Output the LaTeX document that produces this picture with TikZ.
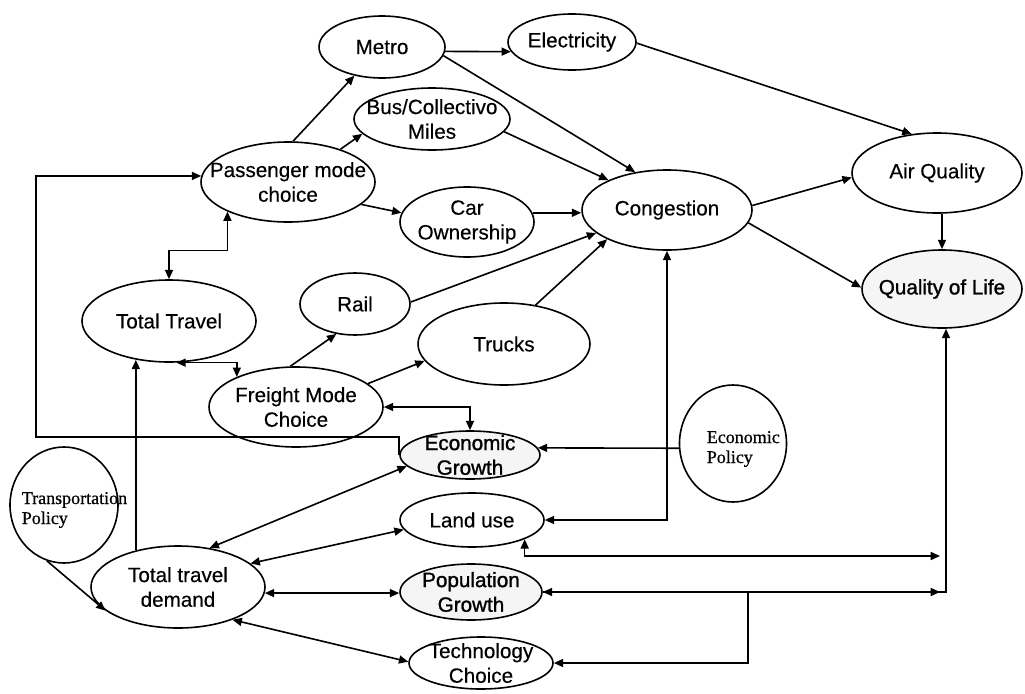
\documentclass[tikz,border=0pt]{standalone}
\usepackage{fontspec}
\setmainfont[FakeBold=0.3]{Liberation Sans}
\newfontfamily\serifface[FakeBold=0.6]{Liberation Serif}
\newfontfamily\heavyface[FakeBold=1.3]{Liberation Sans}
\usetikzlibrary{shapes.geometric,arrows.meta}

\begin{document}
\begin{tikzpicture}[x=0.75pt,y=-0.75pt,
  line width=1.2pt,
  >={Triangle[length=7pt,width=6pt]},
  oval/.style 2 args={ellipse,draw,line width=1.2pt,inner sep=0pt,
    minimum width=#1*1.5pt,minimum height=#2*1.5pt},
  txt/.style={font=\fontsize{15.5}{18.5}\selectfont,align=center},
  htxt/.style={font=\heavyface\fontsize{15.5}{18.5}\selectfont,align=center},
  stip/.style={fill=black!4},
  stxt/.style={font=\serifface\fontsize{13.5}{15}\selectfont,align=left,inner sep=0pt,anchor=west}]

\useasboundingbox (0,0) rectangle (1025,693);

% ---- nodes ----
\node[oval={63}{31},label={[txt]center:Metro}] (metro) at (382,47) {};
\node[oval={64}{28},label={[txt]center:Electricity}] (elec) at (572,42) {};
\node[oval={78}{31},label={[txt]center:{Bus/Collectivo\\Miles}}] (bus) at (432,119) {};
\node[oval={87}{40},label={[txt]center:{Passenger mode\\choice}}] (pm) at (288,182) {};
\node[oval={67}{35},label={[txt]center:{Car\\Ownership}}] (car) at (467,222) {};
\node[oval={85}{40},label={[txt]center:Congestion}] (cong) at (667,210) {};
\node[oval={85}{40},label={[txt]center:Air Quality}] (air) at (937,173) {};
\node[oval={80}{39},stip,label={[htxt]center:Quality of Life}] (qol) at (942,289) {};
\node[oval={87}{41},label={[txt]center:Total Travel}] (tt) at (169,321) {};
\node[oval={55}{31},label={[txt]center:Rail}] (rail) at (355,304) {};
\node[oval={86}{41},label={[txt]center:Trucks}] (trucks) at (504,344) {};
\node[oval={87}{40},label={[txt]center:{Freight Mode\\Choice}}] (fmc) at (296,407) {};
\node[oval={70}{24},stip,label={[htxt]center:{Economic\\Growth}}] (eg) at (470,455) {};
\node[oval={53.5}{58.5}] (ep) at (733,443.5) {};
\node[stxt] (eptext) at (706,449) {Economic\\Policy};
\node[oval={54}{58}] (tp) at (64,505) {};
\node[stxt] (tptext) at (21,510) {Transportation\\Policy};
\node[oval={72}{27},label={[txt]center:Land use}] (land) at (472,520) {};
\node[oval={87}{41},label={[txt]center:{Total travel\\demand}}] (ttd) at (178,587) {};
\node[oval={71}{28},stip,label={[htxt]center:{Population\\Growth}}] (pg) at (471,592) {};
\node[oval={72}{26},label={[txt]center:{Technology\\Choice}}] (tech) at (481,663) {};

% ---- junction points of the routed lines ----
\coordinate (k3) at (36,437);
\coordinate (k5) at (940,556);
\coordinate (k6) at (946,592);
\coordinate (k6a) at (940,592);
\coordinate (k8) at (748,592);

% ---- passenger side ----
\draw[->] (pm.83) -- (metro.226);
\draw[->] (pm.32) -- (bus.192);
\draw[->] (pm.-17) -- (car.172);
\draw[->] (metro.-4) -- (elec.189);
\draw[->] (metro.-8) -- (cong.130);
\draw[->] (bus.-10) -- (cong.153);
\draw[->] (car.8) -- (car.8 -| cong.west);

% ---- freight side ----
\draw[->] (rail.2) -- (cong.198);
\draw[->] (trucks.51) -- (cong.206);
\draw[->] (fmc.98) -- (rail.238);
\draw[->] (fmc.18) -- (trucks.192);

% ---- outcomes ----
\draw[->] (elec.-1) -- (air.123);
\draw[->] (cong.3) -- (air.183);
\draw[->] (cong.-9) -- (qol.179);
\draw[->] (qol.north |- air.south) -- (qol.north);

% ---- travel totals ----
\draw[<->] (pm.206) -- ++(0,39) -| (tt.north);
\draw[<->] (fmc.153) |- (tt.-80);
\draw[<->] (fmc.east) -| (eg.north);
\draw[->] (eg.west) |- (k3) |- (pm.176);
\draw[->] (ttd.139) -- (ttd.139 |- tt.230);

% ---- drivers of total travel demand ----
\draw[->] (tp.253) -- (ttd.198);
\draw[<->] (ttd.51) -- (eg.190);
\draw[<->] (ttd.18) -- (land.188);
\draw[<->] (ttd.-4) -- (ttd.-4 -| pg.west);
\draw[<->] (ttd.-31) -- (tech.179);
\draw[->] (ep.185) -- (eg.6);
\draw[<->] (cong.south) |- (land.east);
\draw[<->] (land.-20) |- (k5);
\draw[<->] (pg.east) -- (k6) -- (k6 |- qol.south);
\draw[->] (pg.east) -- (k6a);
\draw[->] (k8) |- (tech.east);

\end{tikzpicture}
\end{document}
